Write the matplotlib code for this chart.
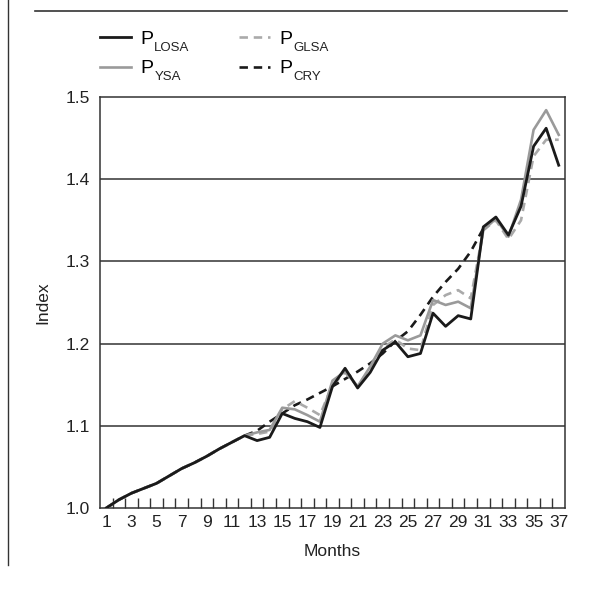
import numpy as np
import matplotlib
matplotlib.use("Agg")
import matplotlib.pyplot as plt
from matplotlib.lines import Line2D

plt.rcParams["font.family"] = ["Liberation Sans", "DejaVu Sans"]

MONTHS = list(range(1, 38))

P_LOSA = [1.000, 1.010, 1.018, 1.024, 1.030, 1.039, 1.048, 1.055, 1.063, 1.072,
          1.080, 1.088, 1.082, 1.086, 1.115, 1.109, 1.105, 1.098, 1.148, 1.170,
          1.146, 1.165, 1.192, 1.202, 1.184, 1.188, 1.237, 1.221, 1.234, 1.230,
          1.342, 1.354, 1.332, 1.367, 1.440, 1.462, 1.417]

P_YSA = [1.000, 1.010, 1.018, 1.024, 1.030, 1.039, 1.048, 1.055, 1.063, 1.072,
         1.080, 1.088, 1.092, 1.095, 1.122, 1.120, 1.113, 1.105, 1.155, 1.166,
         1.148, 1.172, 1.200, 1.210, 1.204, 1.210, 1.253, 1.247, 1.251, 1.243,
         1.338, 1.352, 1.330, 1.375, 1.460, 1.484, 1.454]

P_GLSA = [1.000, 1.010, 1.018, 1.024, 1.030, 1.039, 1.048, 1.055, 1.063, 1.072,
          1.080, 1.088, 1.090, 1.093, 1.120, 1.130, 1.122, 1.113, 1.150, 1.165,
          1.148, 1.170, 1.195, 1.205, 1.194, 1.192, 1.247, 1.259, 1.265, 1.255,
          1.338, 1.350, 1.327, 1.350, 1.428, 1.448, 1.448]

P_CRY = [1.000, 1.010, 1.018, 1.024, 1.030, 1.039, 1.048, 1.055, 1.063, 1.072,
         1.080, 1.088, 1.094, 1.105, 1.115, 1.125, 1.132, 1.140, 1.148, 1.157,
         1.166, 1.176, 1.188, 1.203, 1.215, 1.235, 1.257, 1.275, 1.291, 1.312,
         1.340, None, None, None, None, None, None]

SERIES_SUBS = ["LOSA", "YSA", "GLSA", "CRY"]
X_TICK_LABELS = [str(m) for m in MONTHS if m % 2 == 1]
Y_TICKS = [1.0, 1.1, 1.2, 1.3, 1.4, 1.5]

BLACK = "#1a1a1a"
GREY = "#9a9a9a"
LIGHT = "#aaaaaa"
TXT = "#222222"
DASH = (3.2, 2.2)


def as_array(values):
    return np.array([np.nan if v is None else v for v in values], dtype=float)


fig = plt.figure(figsize=(5.93, 5.91), dpi=100)
ax = fig.add_axes([100 / 593, 1 - 508 / 591, 465 / 593, 411 / 591])

x = np.array(MONTHS)
ax.plot(x, as_array(P_CRY), color=BLACK, lw=1.9, dashes=DASH, zorder=3)
ax.plot(x, as_array(P_GLSA), color=LIGHT, lw=1.9, dashes=DASH, zorder=4)
ax.plot(x, as_array(P_YSA), color=GREY, lw=1.9, zorder=4)
ax.plot(x, as_array(P_LOSA), color=BLACK, lw=2.0, zorder=5)

ax.set_xlim(0.5, 37.5)
ax.set_ylim(1.0, 1.5)
ax.set_yticks(Y_TICKS)
ax.set_yticklabels([f"{v:.1f}" for v in Y_TICKS], fontsize=12.5, color=TXT)
ax.tick_params(axis="y", length=0, pad=7)
for v in Y_TICKS[1:-1]:
    ax.axhline(v, color="#333333", lw=1.1, zorder=1)

ax.set_xticks([m for m in MONTHS if m % 2 == 1])
ax.set_xticklabels(X_TICK_LABELS, fontsize=12.5, color=TXT)
ax.set_xticks(np.arange(1.5, 37.5, 1.0), minor=True)
ax.tick_params(axis="x", which="major", length=0, pad=5)
ax.tick_params(axis="x", which="minor", direction="in", length=7, width=1.0, color="#333333")

for side in ax.spines.values():
    side.set_color("#333333")
    side.set_linewidth(1.1)

ax.set_xlabel("Months", fontsize=12.5, color=TXT, labelpad=10)
ax.set_ylabel("Index", fontsize=12.5, color=TXT, labelpad=11)

handles = [
    Line2D([], [], color=BLACK, lw=2.0),
    Line2D([], [], color=GREY, lw=1.9),
    Line2D([], [], color=LIGHT, lw=1.9, dashes=DASH),
    Line2D([], [], color=BLACK, lw=1.9, dashes=DASH),
]
leg = fig.legend(handles, ["P"] * 4, ncol=2, frameon=False, fontsize=14,
                 loc="upper left", bbox_to_anchor=(82 / 593, 1 - 13 / 591),
                 handlelength=1.6, handletextpad=0.5, columnspacing=4.4,
                 labelspacing=0.6)

# subscripts sit lower than mathtext would put them
fig.canvas.draw()
renderer = fig.canvas.get_renderer()
W, H = fig.bbox.width, fig.bbox.height
for text, sub in zip(leg.get_texts(), SERIES_SUBS):
    bb = text.get_window_extent(renderer)
    fig.text((bb.x1 + 1) / W, (bb.y0 + 6) / H, sub, fontsize=9.5,
             color=TXT, ha="left", va="top")

# frame decorations of the source page
fig.add_artist(Line2D([8 / 593, 8 / 593], [1.0, 1 - 565 / 591],
                      transform=fig.transFigure, color="#333333", lw=1.0))
fig.add_artist(Line2D([35 / 593, 567 / 593], [1 - 11 / 591, 1 - 11 / 591],
                      transform=fig.transFigure, color="#333333", lw=1.2))

fig.savefig("out.png", dpi=100)
